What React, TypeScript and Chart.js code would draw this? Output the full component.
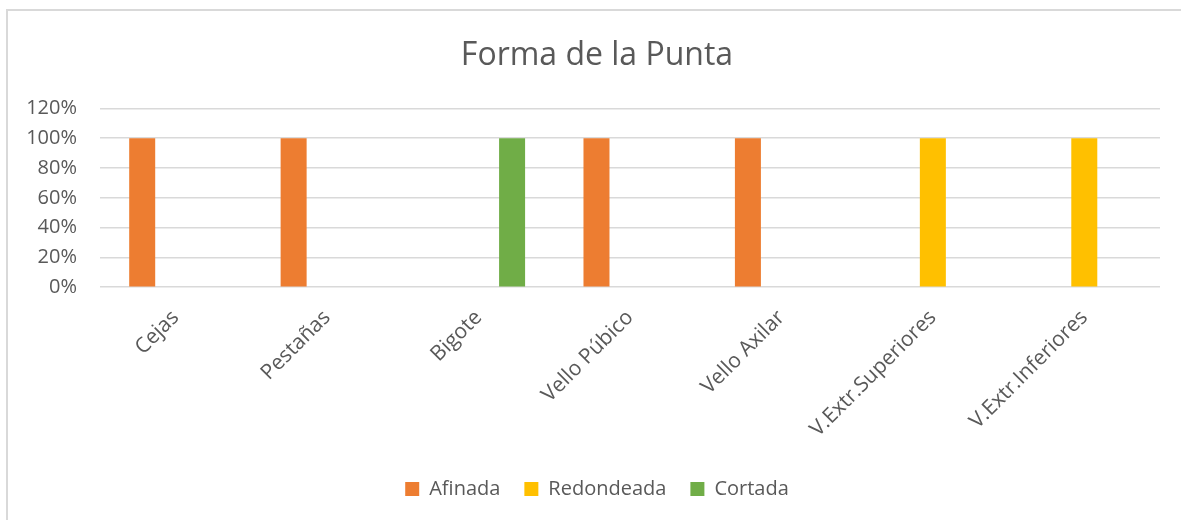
import React, { useEffect, useRef } from "react";
import { Chart, registerables } from "chart.js";

Chart.register(...registerables);

const categories = [
  "Cejas",
  "Pestañas",
  "Bigote",
  "Vello Púbico",
  "Vello Axilar",
  "V.Extr.Superiores",
  "V.Extr.Inferiores",
];
const afinada = [100, 100, 0, 100, 100, 0, 0];
const redondeada = [0, 0, 0, 0, 0, 100, 100];
const cortada = [0, 0, 100, 0, 0, 0, 0];

const FONT = "'Open Sans', 'DejaVu Sans', sans-serif";
const TEXT = "#595959";

export default function App() {
  const ref = useRef<HTMLCanvasElement | null>(null);
  useEffect(() => {
    if (!ref.current) return;
    const chart = new Chart(ref.current, {
      type: "bar",
      data: {
        labels: categories,
        datasets: [
          { label: "Afinada", data: afinada, backgroundColor: "#ED7D31" },
          { label: "Redondeada", data: redondeada, backgroundColor: "#FFC000" },
          { label: "Cortada", data: cortada, backgroundColor: "#70AD47" },
        ],
      },
      options: {
        animation: false,
        responsive: false,
        maintainAspectRatio: false,
        layout: { padding: { left: 0, right: 0, top: 37, bottom: 11 } },
        datasets: {
          bar: { categoryPercentage: 0.664, barPercentage: 0.776 },
        },
        plugins: {
          tooltip: { enabled: false },
          title: {
            display: true,
            text: "Forma de la Punta",
            color: TEXT,
            font: { family: FONT, size: 32, weight: "normal" },
            padding: { top: 0, bottom: 33 },
          },
          legend: {
            position: "bottom",
            labels: {
              color: TEXT,
              font: { family: FONT, size: 20 },
              boxWidth: 14,
              boxHeight: 14,
              padding: 24,
            },
          },
        },
        scales: {
          x: {
            grid: { display: false, drawTicks: false },
            border: { display: false },
            ticks: {
              color: TEXT,
              font: { family: FONT, size: 21 },
              minRotation: 45,
              maxRotation: 45,
              padding: 18,
              autoSkip: false,
            },
            afterFit: (s: any) => {
              s.height = s.height - 5;
            },
          },
          y: {
            min: 0,
            max: 120,
            grid: { color: "#d9d9d9", lineWidth: 1.5, drawTicks: false },
            border: { display: false },
            ticks: {
              stepSize: 20,
              color: TEXT,
              font: { family: FONT, size: 20 },
              padding: 23,
              callback: (v: any) => `${v}%`,
            },
            afterFit: (s: any) => {
              s.width = 100;
            },
          },
          spacer: {
            type: "linear",
            position: "right",
            display: true,
            grid: { display: false, drawTicks: false },
            border: { display: false },
            ticks: { display: false },
            afterFit: (s: any) => {
              s.width = 34;
            },
          },
        },
      },
    });
    return () => chart.destroy();
  }, []);
  return (
    <div>
      <div
        style={{
          position: "fixed",
          left: 0,
          top: 0,
          width: 1181,
          height: 520,
          overflow: "hidden",
          background: "#fff",
        }}
      >
        <canvas ref={ref} width={1194} height={520} style={{ display: "block" }} />
      </div>
      <div
        style={{
          position: "fixed",
          left: 6,
          top: 9,
          width: 1300,
          height: 600,
          borderLeft: "2px solid #d9d9d9",
          borderTop: "2px solid #d9d9d9",
          pointerEvents: "none",
        }}
      />
    </div>
  );
}
